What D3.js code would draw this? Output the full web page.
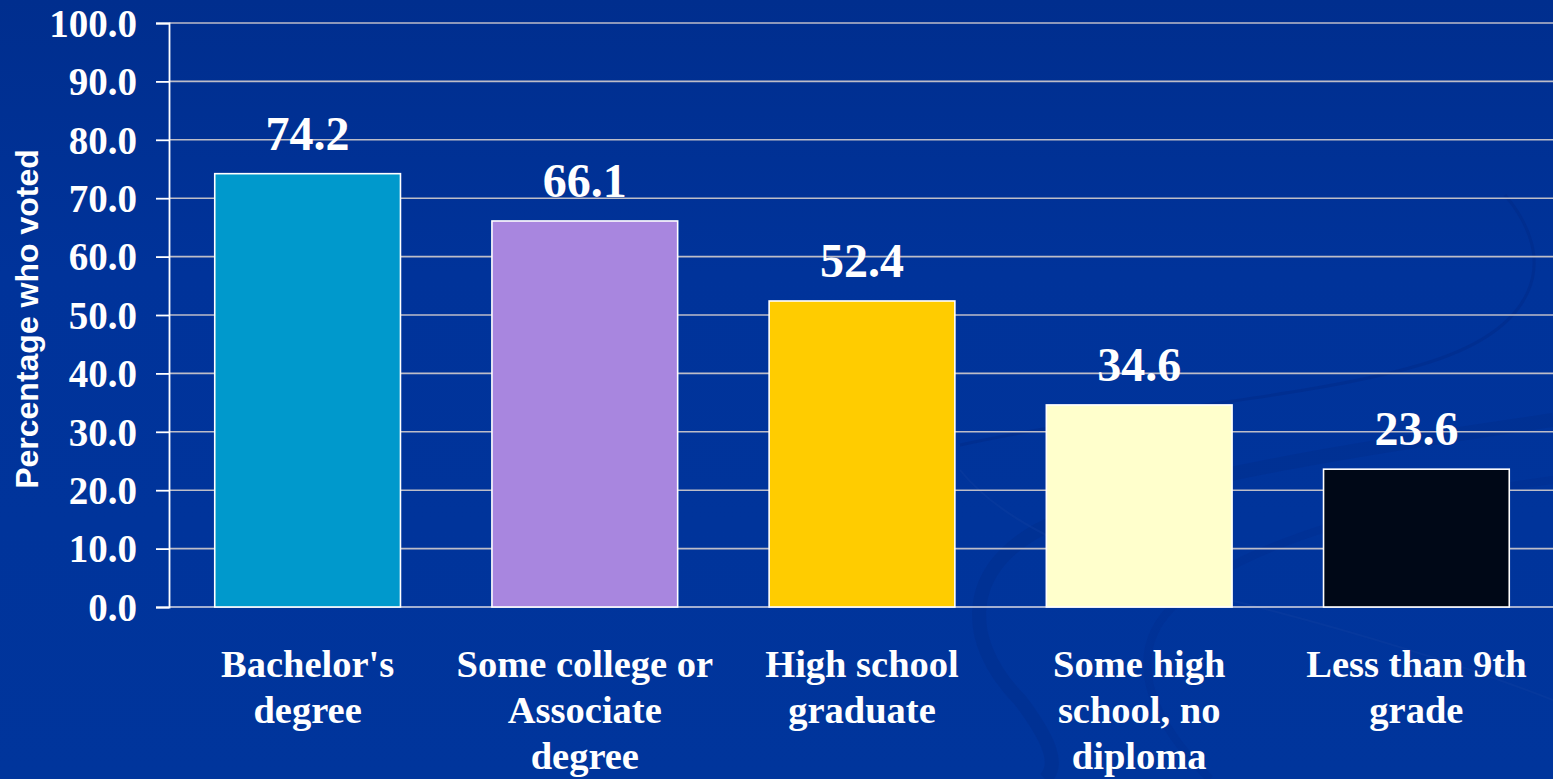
<!DOCTYPE html>
<html>
<head>
<meta charset="utf-8">
<script src="https://cdn.jsdelivr.net/npm/d3@7"></script>
<style>
  html, body { margin: 0; padding: 0; background: #003399; overflow: hidden; }
  svg { display: block; }
</style>
</head>
<body>
<svg id="chart" width="1553" height="779"></svg>
<script>
// Voter turnout by educational attainment
const categories = [
  ["Bachelor's", "degree"],
  ["Some college or", "Associate", "degree"],
  ["High school", "graduate"],
  ["Some high", "school, no", "diploma"],
  ["Less than 9th", "grade"]
];
const values = [74.2, 66.1, 52.4, 34.6, 23.6];
const barColors = ["#0099CC", "#A886DF", "#FFCC00", "#FFFFCC", "#000817"];
const yTicks = [0, 10, 20, 30, 40, 50, 60, 70, 80, 90, 100];
const yTitle = "Percentage who voted";

const W = 1553, H = 779;
const svg = d3.select("#chart");

// background with a gentle gradient and faint swirls
const defs = svg.append("defs");
const bg = defs.append("linearGradient").attr("id", "bg")
  .attr("x1", 0).attr("y1", 0).attr("x2", 0).attr("y2", 1);
bg.append("stop").attr("offset", 0).attr("stop-color", "#002e8e");
bg.append("stop").attr("offset", 0.35).attr("stop-color", "#00339a");
bg.append("stop").attr("offset", 1).attr("stop-color", "#00359c");
svg.append("rect").attr("width", W).attr("height", H).attr("fill", "url(#bg)");

const swirl = svg.append("g").attr("fill", "none");
swirl.append("path")
  .attr("d", "M1505,195 C1560,260 1540,330 1420,365 C1300,400 1120,410 960,445")
  .attr("stroke", "#002a88").attr("stroke-width", 3).attr("opacity", 0.5);
swirl.append("path")
  .attr("d", "M1553,420 C1420,440 1200,470 1060,520 C960,560 960,640 1020,700 C1050,740 1060,765 1045,779")
  .attr("stroke", "#002c8a").attr("stroke-width", 14).attr("opacity", 0.4);
swirl.append("path")
  .attr("d", "M1553,480 C1400,500 1250,540 1180,600 C1120,650 1150,720 1210,779")
  .attr("stroke", "#002c8a").attr("stroke-width", 8).attr("opacity", 0.3);
swirl.append("path")
  .attr("d", "M960,470 C1000,520 1080,560 1230,600 C1350,630 1450,660 1553,700")
  .attr("stroke", "#0d3f9f").attr("stroke-width", 2).attr("opacity", 0.45);

// scales
const x = d3.scaleBand()
  .domain(d3.range(values.length))
  .range([169, 1555])
  .paddingInner(0.33)
  .paddingOuter(0.165);
const y = d3.scaleLinear().domain([0, 100]).range([607, 23]);

// gridlines
svg.append("g")
  .selectAll("line").data(yTicks).join("line")
  .attr("x1", 169).attr("x2", W)
  .attr("y1", d => y(d)).attr("y2", d => y(d))
  .attr("stroke", d => d === 0 ? "#d8d8e4" : "#bdbdc8")
  .attr("stroke-width", 1.6);

// y axis with tick marks and labels
const yAxis = d3.axisLeft(y)
  .tickValues(yTicks)
  .tickSize(13)
  .tickPadding(19)
  .tickFormat(d3.format(".1f"));
const gy = svg.append("g").attr("transform", "translate(169,0)").call(yAxis);
gy.select(".domain").attr("stroke", "#ffffff").attr("stroke-width", 1.8);
gy.selectAll(".tick line").attr("stroke", "#ffffff").attr("stroke-width", 1.8);
gy.selectAll(".tick text")
  .attr("fill", "#ffffff")
  .attr("dy", "0.34em")
  .style("font-family", "'Liberation Serif', 'Times New Roman', serif")
  .style("font-weight", "bold")
  .style("font-size", "39px");

// bars
svg.append("g")
  .selectAll("rect").data(values).join("rect")
  .attr("x", (d, i) => x(i))
  .attr("width", x.bandwidth())
  .attr("y", d => y(d))
  .attr("height", d => y(0) - y(d))
  .attr("fill", (d, i) => barColors[i])
  .attr("stroke", "#ffffff")
  .attr("stroke-width", 1.6);

// value labels
svg.append("g")
  .selectAll("text").data(values).join("text")
  .attr("x", (d, i) => x(i) + x.bandwidth() / 2)
  .attr("y", d => y(d) - 24)
  .attr("text-anchor", "middle")
  .attr("fill", "#ffffff")
  .style("font-family", "'Liberation Serif', 'Times New Roman', serif")
  .style("font-weight", "bold")
  .style("font-size", "48px")
  .text(d => d3.format(".1f")(d));

// category labels, wrapped onto up to three lines
const cat = svg.append("g")
  .selectAll("text").data(categories).join("text")
  .attr("x", (d, i) => x(i) + x.bandwidth() / 2)
  .attr("y", 677)
  .attr("text-anchor", "middle")
  .attr("fill", "#ffffff")
  .style("font-family", "'Liberation Serif', 'Times New Roman', serif")
  .style("font-weight", "bold")
  .style("font-size", "38.5px");
cat.selectAll("tspan").data(d => d).join("tspan")
  .attr("x", function () { return d3.select(this.parentNode).attr("x"); })
  .attr("dy", (d, i) => i === 0 ? 0 : 46)
  .text(d => d);

// y axis title
svg.append("text")
  .attr("transform", "translate(38,319) rotate(-90)")
  .attr("text-anchor", "middle")
  .attr("fill", "#ffffff")
  .style("font-family", "'Liberation Sans', Arial, sans-serif")
  .style("font-weight", "bold")
  .style("font-size", "32px")
  .text(yTitle);
</script>
</body>
</html>
